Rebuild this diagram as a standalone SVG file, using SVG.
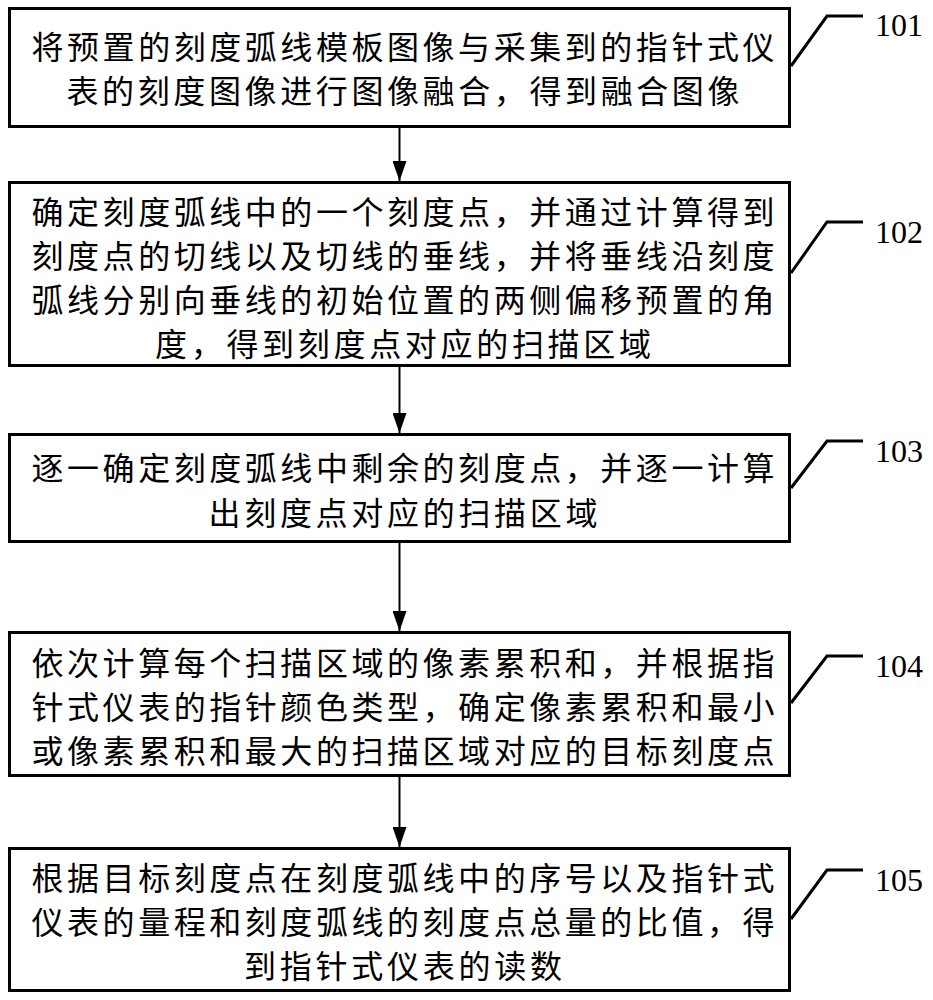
<svg xmlns="http://www.w3.org/2000/svg" width="933" height="1000" viewBox="0 0 933 1000">
<defs>
<style>
.box{fill:#fff;stroke:#000;stroke-width:3}
.t{font-family:"Noto Sans CJK SC","Noto Sans CJK JP",sans-serif;font-size:32px;fill:#000;text-anchor:middle;dominant-baseline:central}
.lbl{font-family:"Liberation Serif","Times New Roman",serif;font-size:32px;fill:#000}
.lead{fill:none;stroke:#000;stroke-width:3}
.conn{stroke:#000;stroke-width:2;fill:none}
</style>
<marker id="ah" viewBox="0 0 20 14" refX="20" refY="7" markerWidth="20" markerHeight="14" markerUnits="userSpaceOnUse" orient="auto">
<path d="M0,0 L20,7 L0,14 Z" fill="#000"/>
</marker>
</defs>
<rect width="933" height="1000" fill="#fff"/>
<g id="connectors">
<line class="conn" x1="399.5" y1="128" x2="399.5" y2="181" marker-end="url(#ah)"/>
<line class="conn" x1="399.5" y1="367" x2="399.5" y2="433" marker-end="url(#ah)"/>
<line class="conn" x1="399.5" y1="543" x2="399.5" y2="631" marker-end="url(#ah)"/>
<line class="conn" x1="399.5" y1="777" x2="399.5" y2="847" marker-end="url(#ah)"/>
</g>
<g id="step101">
<rect class="box" x="9.5" y="8.5" width="780" height="118"/>
<text class="t" x="403" y="45" textLength="743" lengthAdjust="spacing">将预置的刻度弧线模板图像与采集到的指针式仪</text>
<text class="t" x="403" y="89" textLength="673" lengthAdjust="spacing">表的刻度图像进行图像融合，得到融合图像</text>
<polyline class="lead" points="791,66 827,16 863,16"/>
<text class="lbl" x="875" y="36">101</text>
</g>
<g id="step102">
<rect class="box" x="9.5" y="182.5" width="780" height="183"/>
<text class="t" x="403" y="210" textLength="743" lengthAdjust="spacing">确定刻度弧线中的一个刻度点，并通过计算得到</text>
<text class="t" x="403" y="254" textLength="743" lengthAdjust="spacing">刻度点的切线以及切线的垂线，并将垂线沿刻度</text>
<text class="t" x="403" y="298" textLength="743" lengthAdjust="spacing">弧线分别向垂线的初始位置的两侧偏移预置的角</text>
<text class="t" x="403" y="342" textLength="496" lengthAdjust="spacing">度，得到刻度点对应的扫描区域</text>
<polyline class="lead" points="791,273 827,222 863,222"/>
<text class="lbl" x="875" y="243">102</text>
</g>
<g id="step103">
<rect class="box" x="9.5" y="434.5" width="780" height="107"/>
<text class="t" x="403" y="466" textLength="743" lengthAdjust="spacing">逐一确定刻度弧线中剩余的刻度点，并逐一计算</text>
<text class="t" x="403" y="511" textLength="389" lengthAdjust="spacing">出刻度点对应的扫描区域</text>
<polyline class="lead" points="791,488 827,441 863,441"/>
<text class="lbl" x="875" y="462">103</text>
</g>
<g id="step104">
<rect class="box" x="9.5" y="632.5" width="780" height="143"/>
<text class="t" x="403" y="661" textLength="743" lengthAdjust="spacing">依次计算每个扫描区域的像素累积和，并根据指</text>
<text class="t" x="403" y="705" textLength="743" lengthAdjust="spacing">针式仪表的指针颜色类型，确定像素累积和最小</text>
<text class="t" x="403" y="749" textLength="743" lengthAdjust="spacing">或像素累积和最大的扫描区域对应的目标刻度点</text>
<polyline class="lead" points="791,703 827,656 863,656"/>
<text class="lbl" x="875" y="677">104</text>
</g>
<g id="step105">
<rect class="box" x="9.5" y="848.5" width="780" height="142"/>
<text class="t" x="403" y="876" textLength="743" lengthAdjust="spacing">根据目标刻度点在刻度弧线中的序号以及指针式</text>
<text class="t" x="403" y="920" textLength="743" lengthAdjust="spacing">仪表的量程和刻度弧线的刻度点总量的比值，得</text>
<text class="t" x="403" y="964" textLength="318" lengthAdjust="spacing">到指针式仪表的读数</text>
<polyline class="lead" points="791,919 827,870 863,870"/>
<text class="lbl" x="875" y="891">105</text>
</g>
</svg>
